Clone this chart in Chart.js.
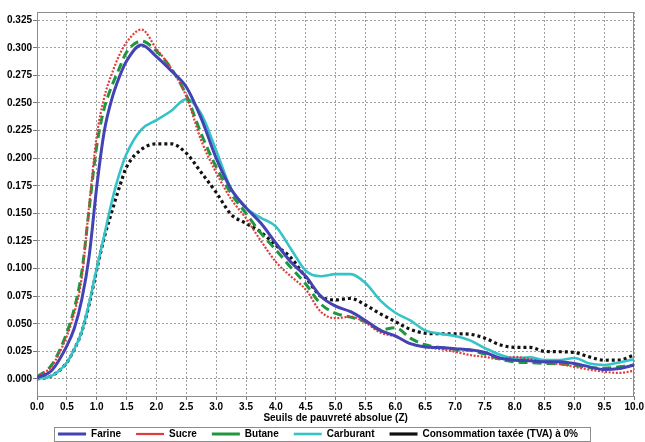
<!DOCTYPE html>
<html>
<head>
<meta charset="utf-8">
<script src="https://cdn.jsdelivr.net/npm/chart.js@4/dist/chart.umd.min.js"></script>
<style>
  html, body { margin: 0; padding: 0; background: #fff; }
  #wrap { width: 645px; height: 442px; }
</style>
</head>
<body>
<div id="wrap"><canvas id="c" width="645" height="442"></canvas></div>
<script>
// Poverty threshold (Z) at which each curve is sampled
const seuils = [0, 0.25, 0.5, 0.625, 0.75, 0.875, 1.0, 1.125, 1.25, 1.375, 1.5,
  1.75, 2.0, 2.25, 2.5, 2.75, 3.0, 3.25, 3.5, 3.75, 4.0, 4.25, 4.5, 4.75, 5.0,
  5.25, 5.5, 5.75, 6.0, 6.25, 6.5, 6.75, 7.0, 7.25, 7.5, 7.75, 8.0, 8.25, 8.5,
  8.75, 9.0, 9.25, 9.5, 9.75, 10.0];

const farine = [0.001, 0.008, 0.030, 0.046, 0.072, 0.112, 0.174, 0.224, 0.253, 0.273, 0.288,
  0.3025, 0.292, 0.279, 0.2645, 0.236, 0.200, 0.172, 0.155, 0.141, 0.123, 0.106, 0.093, 0.075, 0.066,
  0.061, 0.053, 0.044, 0.039, 0.032, 0.029, 0.0285, 0.0275, 0.0265, 0.024, 0.019, 0.017, 0.0166, 0.0157,
  0.0157, 0.014, 0.011, 0.0085, 0.0095, 0.0127];

const sucre = [0.002, 0.012, 0.039, 0.060, 0.092, 0.158, 0.220, 0.255, 0.276, 0.293, 0.305,
  0.3165, 0.299, 0.281, 0.256, 0.216, 0.187, 0.163, 0.1455, 0.125, 0.106, 0.093, 0.081, 0.061, 0.055,
  0.0565, 0.051, 0.042, 0.0385, 0.032, 0.029, 0.027, 0.0247, 0.0217, 0.020, 0.018, 0.020, 0.018, 0.015,
  0.0135, 0.011, 0.0085, 0.0065, 0.0055, 0.0075];

const butane = [0.002, 0.013, 0.042, 0.064, 0.097, 0.155, 0.211, 0.245, 0.265, 0.281, 0.296,
  0.306, 0.297, 0.281, 0.257, 0.222, 0.192, 0.168, 0.150, 0.132, 0.117, 0.101, 0.086, 0.068, 0.0595,
  0.056, 0.052, 0.0445, 0.0465, 0.037, 0.031, 0.0285, 0.027, 0.026, 0.0225, 0.018, 0.0155, 0.0148, 0.0142,
  0.0137, 0.0125, 0.0105, 0.0097, 0.011, 0.0127];

const carburant = [0.000, 0.003, 0.015, 0.027, 0.043, 0.069, 0.100, 0.130, 0.160, 0.185, 0.204,
  0.226, 0.2345, 0.243, 0.2535, 0.240, 0.207, 0.172, 0.155, 0.146, 0.138, 0.118, 0.098, 0.093, 0.095,
  0.095, 0.087, 0.071, 0.060, 0.053, 0.044, 0.041, 0.039, 0.035, 0.028, 0.022, 0.019, 0.0196, 0.0172,
  0.0172, 0.019, 0.014, 0.0127, 0.015, 0.018];

const consommation = [0.000, 0.003, 0.015, 0.027, 0.043, 0.068, 0.099, 0.128, 0.151, 0.173, 0.192,
  0.208, 0.213, 0.213, 0.2045, 0.187, 0.169, 0.149, 0.141, 0.133, 0.121, 0.110, 0.092, 0.075, 0.0716,
  0.073, 0.067, 0.059, 0.052, 0.045, 0.0415, 0.041, 0.041, 0.0405, 0.037, 0.031, 0.0287, 0.0287, 0.025,
  0.0247, 0.024, 0.020, 0.017, 0.0172, 0.0217];

const seriesNames = ['Farine', 'Sucre', 'Butane', 'Carburant', 'Consommation taxée (TVA) à 0%'];
const xTickValues = [0, 0.5, 1, 1.5, 2, 2.5, 3, 3.5, 4, 4.5, 5, 5.5, 6, 6.5, 7, 7.5, 8, 8.5, 9, 9.5, 10];
const yTickValues = [0, 0.025, 0.05, 0.075, 0.1, 0.125, 0.15, 0.175, 0.2, 0.225, 0.25, 0.275, 0.3, 0.325];
const xTitle = 'Seuils de pauvreté absolue (Z)';

// Line styles, one per series
const styles = [
  { color: '#4343b3', width: 3, dash: [] },
  { color: '#e23b3b', width: 2.2, dash: [2, 1.6] },
  { color: '#1f973d', width: 3, dash: [9, 5] },
  { color: '#34c3c8', width: 2.6, dash: [] },
  { color: '#111111', width: 3.2, dash: [3, 3] }
];

const values = [farine, sucre, butane, carburant, consommation];

const datasets = values.map((vals, i) => ({
  label: seriesNames[i],
  data: seuils.map((x, j) => ({ x: x, y: vals[j] })),
  borderColor: styles[i].color,
  backgroundColor: styles[i].color,
  borderWidth: styles[i].width,
  borderDash: styles[i].dash,
  borderCapStyle: 'butt',
  pointRadius: 0,
  fill: false,
  cubicInterpolationMode: 'monotone'
}));

Chart.defaults.font.family = '"Liberation Sans", Arial, sans-serif';
Chart.defaults.font.size = 10;
Chart.defaults.font.weight = 'bold';
Chart.defaults.color = '#000';

// Solid frame around the plotting area
const framePlugin = {
  id: 'frame',
  beforeDatasetsDraw(chart) {
    const { ctx, chartArea: a } = chart;
    ctx.save();
    ctx.strokeStyle = '#8c8c8c';
    ctx.lineWidth = 1;
    ctx.strokeRect(Math.round(a.left) + 0.5, Math.round(a.top) + 0.5,
      Math.round(a.right - a.left) - 1, Math.round(a.bottom - a.top));
    ctx.restore();
  }
};

// Legend sits at the very bottom, inside a thin box
const legendBoxPlugin = {
  id: 'legendBox',
  afterLayout(chart) {
    const lg = chart.legend;
    if (!lg) return;
    const pad = lg.options.labels.padding;
    const newTop = chart.height - 8 - pad - 5;
    lg.top = newTop;
    lg.bottom = chart.height;
  },
  afterDraw(chart) {
    const lg = chart.legend;
    if (!lg || !lg.legendHitBoxes || !lg.legendHitBoxes.length) return;
    const hb = lg.legendHitBoxes;
    const first = hb[0], last = hb[hb.length - 1];
    const left = Math.round(first.left - 4) + 0.5;
    const right = Math.round(last.left + last.width + 12) + 0.5;
    const top = Math.round(first.top - 2) + 0.5;
    const ctx = chart.ctx;
    ctx.save();
    ctx.strokeStyle = '#8c8c8c';
    ctx.lineWidth = 1;
    ctx.strokeRect(left, top, right - left, 14);
    ctx.restore();
  }
};

new Chart(document.getElementById('c'), {
  type: 'line',
  data: { datasets: datasets },
  options: {
    responsive: false,
    devicePixelRatio: 1,
    animation: false,
    events: [],
    layout: { padding: { top: 12, right: 9, left: 0, bottom: 0 } },
    plugins: {
      legend: {
        position: 'bottom',
        maxHeight: 18,
        labels: {
          usePointStyle: true,
          pointStyle: 'line',
          pointStyleWidth: 28,
          padding: 15,
          color: '#000',
          font: { size: 10, weight: 'bold' }
        }
      },
      tooltip: { enabled: false }
    },
    scales: {
      x: {
        type: 'linear',
        min: 0,
        max: 10,
        afterBuildTicks: s => { s.ticks = xTickValues.map(v => ({ value: v })); },
        afterFit: s => { s.height = 28; },
        ticks: {
          autoSkip: false,
          maxRotation: 0,
          padding: 1,
          color: '#000',
          callback: v => Number(v).toFixed(1)
        },
        grid: { color: '#9e9e9e', tickLength: 4, tickColor: '#777', tickBorderDash: [] },
        border: { color: '#8c8c8c', dash: [2, 2], width: 1 },
        title: {
          display: true,
          text: xTitle,
          color: '#000',
          font: { size: 10, weight: 'bold' },
          padding: { top: 0, bottom: 0 }
        }
      },
      y: {
        type: 'linear',
        min: -0.0154,
        max: 0.3324,
        afterBuildTicks: s => { s.ticks = yTickValues.map(v => ({ value: v })); },
        afterFit: s => { s.width = 37; },
        ticks: {
          padding: 1,
          color: '#000',
          callback: v => Number(v).toFixed(3)
        },
        grid: { color: '#9e9e9e', tickLength: 4, tickColor: '#777', tickBorderDash: [] },
        border: { color: '#8c8c8c', dash: [2, 2], width: 1 }
      }
    }
  },
  plugins: [framePlugin, legendBoxPlugin]
});
</script>
</body>
</html>
